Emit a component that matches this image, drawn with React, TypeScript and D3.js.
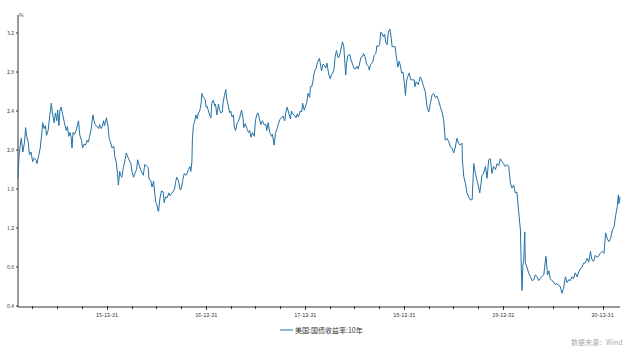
import React from "react";
import * as d3 from "d3";

const dates: string[] = [
  "2015-02-06","2015-02-10","2015-02-13","2015-02-18","2015-02-24","2015-03-02","2015-03-06","2015-03-10","2015-03-16","2015-03-20","2015-03-26",
  "2015-04-01","2015-04-07","2015-04-13","2015-04-17","2015-04-23","2015-04-29","2015-05-05","2015-05-08","2015-05-13","2015-05-18","2015-05-22","2015-05-28",
  "2015-06-03","2015-06-09","2015-06-12","2015-06-16","2015-06-19","2015-06-24","2015-06-29","2015-07-02","2015-07-07","2015-07-10","2015-07-15","2015-07-21","2015-07-27",
  "2015-08-03","2015-08-07","2015-08-12","2015-08-17","2015-08-21","2015-08-24","2015-08-28","2015-09-02","2015-09-08","2015-09-14","2015-09-17","2015-09-22","2015-09-28",
  "2015-10-02","2015-10-07","2015-10-13","2015-10-19","2015-10-23","2015-10-28","2015-11-03","2015-11-09","2015-11-13","2015-11-18","2015-11-24","2015-11-30",
  "2015-12-04","2015-12-09","2015-12-14","2015-12-18","2015-12-22","2015-12-29",
  "2016-01-04","2016-01-08","2016-01-13","2016-01-19","2016-01-25","2016-01-29","2016-02-03","2016-02-08","2016-02-11","2016-02-16","2016-02-19","2016-02-24",
  "2016-03-01","2016-03-07","2016-03-11","2016-03-15","2016-03-21","2016-03-28","2016-04-01","2016-04-07","2016-04-12","2016-04-18","2016-04-22","2016-04-27",
  "2016-05-03","2016-05-09","2016-05-13","2016-05-18","2016-05-24","2016-05-31","2016-06-03","2016-06-09","2016-06-14","2016-06-20","2016-06-24","2016-06-28",
  "2016-07-01","2016-07-06","2016-07-08","2016-07-13","2016-07-19","2016-07-25","2016-07-29","2016-08-03","2016-08-09","2016-08-15","2016-08-19","2016-08-24","2016-08-30",
  "2016-09-05","2016-09-09","2016-09-13","2016-09-19","2016-09-26","2016-09-30","2016-10-05","2016-10-11","2016-10-17","2016-10-20","2016-10-26",
  "2016-11-01","2016-11-04","2016-11-08","2016-11-10","2016-11-14","2016-11-17","2016-11-23","2016-11-28","2016-12-02","2016-12-07","2016-12-12","2016-12-15","2016-12-20","2016-12-27","2016-12-30",
  "2017-01-03","2017-01-06","2017-01-11","2017-01-17","2017-01-20","2017-01-26","2017-01-31","2017-02-03","2017-02-08","2017-02-14","2017-02-17","2017-02-23","2017-02-28",
  "2017-03-03","2017-03-08","2017-03-13","2017-03-16","2017-03-21","2017-03-27","2017-03-31","2017-04-05","2017-04-10","2017-04-13","2017-04-18","2017-04-24","2017-04-28",
  "2017-05-03","2017-05-10","2017-05-15","2017-05-18","2017-05-24","2017-05-31","2017-06-05","2017-06-09","2017-06-14","2017-06-19","2017-06-26","2017-06-30",
  "2017-07-06","2017-07-10","2017-07-14","2017-07-20","2017-07-26","2017-08-01","2017-08-08","2017-08-11","2017-08-16","2017-08-22","2017-08-29",
  "2017-09-01","2017-09-07","2017-09-12","2017-09-18","2017-09-22","2017-09-28","2017-10-04","2017-10-10","2017-10-16","2017-10-20","2017-10-25","2017-10-31",
  "2017-11-06","2017-11-10","2017-11-15","2017-11-20","2017-11-27","2017-12-01","2017-12-06","2017-12-12","2017-12-18","2017-12-21","2017-12-27","2017-12-29",
  "2018-01-02","2018-01-05","2018-01-10","2018-01-16","2018-01-19","2018-01-24","2018-01-29","2018-02-01","2018-02-05","2018-02-09","2018-02-14","2018-02-21","2018-02-26",
  "2018-03-01","2018-03-06","2018-03-12","2018-03-16","2018-03-21","2018-03-27","2018-04-02","2018-04-06","2018-04-11","2018-04-16","2018-04-20","2018-04-25","2018-04-30",
  "2018-05-04","2018-05-09","2018-05-15","2018-05-17","2018-05-22","2018-05-25","2018-05-29","2018-06-01","2018-06-06","2018-06-13","2018-06-18","2018-06-22","2018-06-28",
  "2018-07-03","2018-07-09","2018-07-13","2018-07-18","2018-07-24","2018-07-31","2018-08-02","2018-08-08","2018-08-14","2018-08-20","2018-08-24","2018-08-29",
  "2018-09-05","2018-09-11","2018-09-17","2018-09-21","2018-09-26","2018-10-01","2018-10-05","2018-10-09","2018-10-15","2018-10-19","2018-10-24","2018-10-29",
  "2018-11-02","2018-11-08","2018-11-13","2018-11-16","2018-11-21","2018-11-27","2018-11-30","2018-12-04","2018-12-07","2018-12-12","2018-12-17","2018-12-21","2018-12-26","2018-12-31",
  "2019-01-04","2019-01-08","2019-01-11","2019-01-18","2019-01-24","2019-01-29","2019-02-05","2019-02-08","2019-02-13","2019-02-20","2019-02-28",
  "2019-03-05","2019-03-12","2019-03-18","2019-03-25","2019-03-31","2019-04-06","2019-04-12","2019-04-18","2019-04-24","2019-05-01","2019-05-06","2019-05-13","2019-05-19","2019-05-25","2019-05-31",
  "2019-06-06","2019-06-12","2019-06-19","2019-06-25","2019-07-01","2019-07-07","2019-07-13","2019-07-19","2019-07-25","2019-08-01","2019-08-02","2019-08-07","2019-08-13","2019-08-19","2019-08-25","2019-08-31",
  "2019-09-07","2019-09-13","2019-09-19","2019-09-25","2019-10-01","2019-10-05","2019-10-10","2019-10-13","2019-10-19","2019-10-26","2019-11-01","2019-11-07","2019-11-13","2019-11-19","2019-11-25",
  "2019-12-02","2019-12-08","2019-12-14","2019-12-20","2019-12-26",
  "2020-01-01","2020-01-07","2020-01-14","2020-01-20","2020-01-26","2020-02-01","2020-02-07","2020-02-13","2020-02-19","2020-02-25","2020-03-03","2020-03-06","2020-03-09","2020-03-12","2020-03-15","2020-03-19","2020-03-21","2020-03-27",
  "2020-04-02","2020-04-09","2020-04-15","2020-04-21","2020-04-27","2020-05-03","2020-05-09","2020-05-15","2020-05-21","2020-05-28","2020-06-05","2020-06-11","2020-06-16","2020-06-21","2020-06-27",
  "2020-07-03","2020-07-09","2020-07-16","2020-07-22","2020-07-28","2020-08-03","2020-08-09","2020-08-16","2020-08-22","2020-08-28","2020-09-03","2020-09-09","2020-09-15","2020-09-21","2020-09-28",
  "2020-10-04","2020-10-10","2020-10-16","2020-10-22","2020-10-28","2020-11-04","2020-11-10","2020-11-16","2020-11-22","2020-11-28","2020-12-04","2020-12-10","2020-12-16","2020-12-22","2020-12-29",
  "2021-01-05","2021-01-11","2021-01-17","2021-01-23","2021-01-29","2021-02-05","2021-02-11","2021-02-17","2021-02-23","2021-02-27","2021-03-01","2021-03-05"
];

const yields: number[] = [
  1.71,1.95,2.02,2.12,1.98,2.08,2.23,2.14,2.08,1.95,1.98,
  1.88,1.92,1.90,1.86,1.94,2.02,2.18,2.28,2.22,2.25,2.15,2.20,
  2.35,2.48,2.40,2.33,2.28,2.38,2.30,2.41,2.25,2.40,2.44,2.36,2.28,
  2.20,2.24,2.14,2.18,2.13,2.02,2.18,2.16,2.20,2.26,2.30,2.15,2.10,
  2.02,2.06,2.05,2.10,2.08,2.14,2.22,2.36,2.30,2.26,2.24,2.22,
  2.26,2.22,2.24,2.30,2.25,2.33,
  2.24,2.12,2.08,2.02,2.04,1.93,1.88,1.75,1.64,1.78,1.74,1.72,
  1.83,1.90,1.97,1.94,1.90,1.86,1.78,1.72,1.76,1.80,1.90,1.85,
  1.80,1.76,1.74,1.85,1.84,1.82,1.70,1.69,1.62,1.68,1.56,1.46,
  1.45,1.38,1.37,1.50,1.58,1.57,1.46,1.52,1.51,1.56,1.53,1.55,1.57,
  1.60,1.67,1.72,1.69,1.59,1.60,1.69,1.76,1.74,1.75,1.80,
  1.83,1.78,1.88,2.12,2.26,2.28,2.36,2.32,2.38,2.40,2.48,2.58,2.54,2.52,2.44,
  2.45,2.42,2.37,2.33,2.48,2.51,2.45,2.47,2.36,2.47,2.42,2.38,2.39,
  2.49,2.56,2.62,2.53,2.47,2.38,2.40,2.34,2.36,2.24,2.20,2.28,2.29,
  2.33,2.41,2.34,2.23,2.27,2.21,2.18,2.20,2.13,2.18,2.14,2.30,
  2.37,2.38,2.33,2.26,2.30,2.26,2.26,2.20,2.28,2.18,2.14,
  2.16,2.05,2.17,2.22,2.26,2.31,2.33,2.35,2.30,2.38,2.44,2.38,
  2.32,2.40,2.37,2.36,2.33,2.37,2.34,2.40,2.39,2.48,2.41,2.43,
  2.46,2.48,2.58,2.54,2.65,2.65,2.72,2.78,2.82,2.84,2.90,2.94,2.86,
  2.81,2.88,2.87,2.84,2.89,2.78,2.73,2.77,2.79,2.83,2.96,3.02,2.95,
  2.95,3.00,3.08,3.11,3.06,2.93,2.77,2.89,2.97,2.98,2.92,2.89,2.84,
  2.83,2.86,2.83,2.87,2.95,2.96,2.99,2.96,2.88,2.86,2.82,2.88,
  2.90,2.97,2.99,3.07,3.06,3.08,3.21,3.20,3.16,3.19,3.10,3.08,
  3.21,3.24,3.14,3.06,3.06,3.06,2.99,2.91,2.85,2.91,2.86,2.79,2.80,2.69,
  2.56,2.70,2.74,2.79,2.72,2.72,2.72,2.65,2.70,2.67,2.75,
  2.72,2.65,2.60,2.44,2.39,2.48,2.56,2.58,2.54,2.55,2.51,2.44,2.39,2.31,2.10,
  2.12,2.09,2.03,2.02,1.97,2.03,2.12,2.07,2.05,2.07,1.90,1.73,1.66,1.56,1.52,1.49,
  1.49,1.86,1.76,1.69,1.62,1.56,1.66,1.74,1.76,1.83,1.71,1.90,1.91,1.76,1.83,
  1.80,1.86,1.84,1.91,1.88,
  1.86,1.83,1.85,1.83,1.66,1.61,1.64,1.56,1.57,1.38,1.18,0.80,0.56,0.82,0.87,1.16,0.84,0.80,
  0.74,0.70,0.66,0.67,0.72,0.70,0.66,0.68,0.70,0.72,0.91,0.72,0.76,0.68,0.66,
  0.65,0.62,0.63,0.61,0.60,0.53,0.58,0.70,0.64,0.67,0.66,0.70,0.68,0.74,0.70,
  0.75,0.78,0.80,0.84,0.84,0.89,0.85,0.96,0.87,0.86,0.92,0.90,0.91,0.94,0.96,
  0.94,1.15,1.09,1.06,1.09,1.18,1.21,1.33,1.42,1.54,1.45,1.52
];

const yTicks: number[] = [0.4, 0.8, 1.2, 1.6, 2.0, 2.4, 2.8, 3.2];
const seriesName = "美国:国债收益率:10年";
const unitLabel = "%";
const sourceLabel = "数据来源：Wind";

const W = 640;
const H = 354;
const LEFT = 18;
const RIGHT = 620;
const BOTTOM = 306;
const TOP = 33;
const LINE_COLOR = "#2271a6";

export default function App() {
  const parse = d3.timeParse("%Y-%m-%d");
  const pts = dates.map((d, i) => ({ date: parse(d) as Date, v: yields[i] }));
  const start = pts[0].date;
  const end = pts[pts.length - 1].date;
  const x = d3.scaleTime().domain([start, end]).range([LEFT, RIGHT]);
  const y = d3.scaleLinear().domain([0.4, 3.2]).range([BOTTOM, TOP]);
  const line = d3
    .line<{ date: Date; v: number }>()
    .x((d) => x(d.date))
    .y((d) => y(d.v));

  const qStarts = d3.timeMonth.every(3)!.range(d3.timeYear.floor(start), d3.timeDay.offset(end, 2));
  const qEnds = qStarts
    .map((d) => d3.timeDay.offset(d, -1))
    .filter((d) => d >= start && d <= end);
  const fmt = d3.timeFormat("%y-%m-%d");
  const axisY = BOTTOM + 1;

  return (
    <svg
      width={W}
      height={H}
      style={{ position: "absolute", left: 0, top: 0, background: "#fff" }}
      fontFamily="'Noto Sans CJK SC', 'Noto Sans', sans-serif"
    >
      <rect x={0} y={0} width={W} height={H} fill="#fff" />
      {/* y axis */}
      <line x1={LEFT} x2={LEFT} y1={15} y2={axisY} stroke="#333" strokeWidth={1} />
      <text x={LEFT + 1} y={17} fontSize={5} fill="#333">{unitLabel}</text>
      {yTicks.map((t) => (
        <g key={t}>
          <line x1={LEFT - 2} x2={LEFT} y1={y(t)} y2={y(t)} stroke="#333" strokeWidth={1} />
          <text x={LEFT - 4} y={y(t) + 1.8} fontSize={5} textAnchor="end" fill="#333">
            {t.toFixed(1)}
          </text>
        </g>
      ))}
      {/* x axis */}
      <line x1={LEFT} x2={RIGHT} y1={axisY} y2={axisY} stroke="#333" strokeWidth={1} />
      {qEnds.map((d) => {
        const major = d.getMonth() === 11;
        const px = Math.round(x(d)) + 0.5;
        return (
          <g key={d.toISOString()}>
            <line
              x1={px}
              x2={px}
              y1={major ? axisY - 1 : axisY - 1}
              y2={major ? axisY + 3 : axisY + 2}
              stroke="#333"
              strokeWidth={1}
            />
            {major && (
              <text x={x(d)} y={axisY + 10} fontSize={5.5} textAnchor="middle" fill="#333">
                {fmt(d)}
              </text>
            )}
          </g>
        );
      })}
      {/* series */}
      <path d={line(pts) || ""} fill="none" stroke={LINE_COLOR} strokeWidth={1} strokeLinejoin="round" />
      {/* legend */}
      <line x1={280} x2={293} y1={330} y2={330} stroke={LINE_COLOR} strokeWidth={1} />
      <text x={295} y={332.5} fontSize={7} fill="#333">{seriesName}</text>
      {/* source */}
      <text x={571} y={345} fontSize={7} fill="#aaa">{sourceLabel}</text>
    </svg>
  );
}
